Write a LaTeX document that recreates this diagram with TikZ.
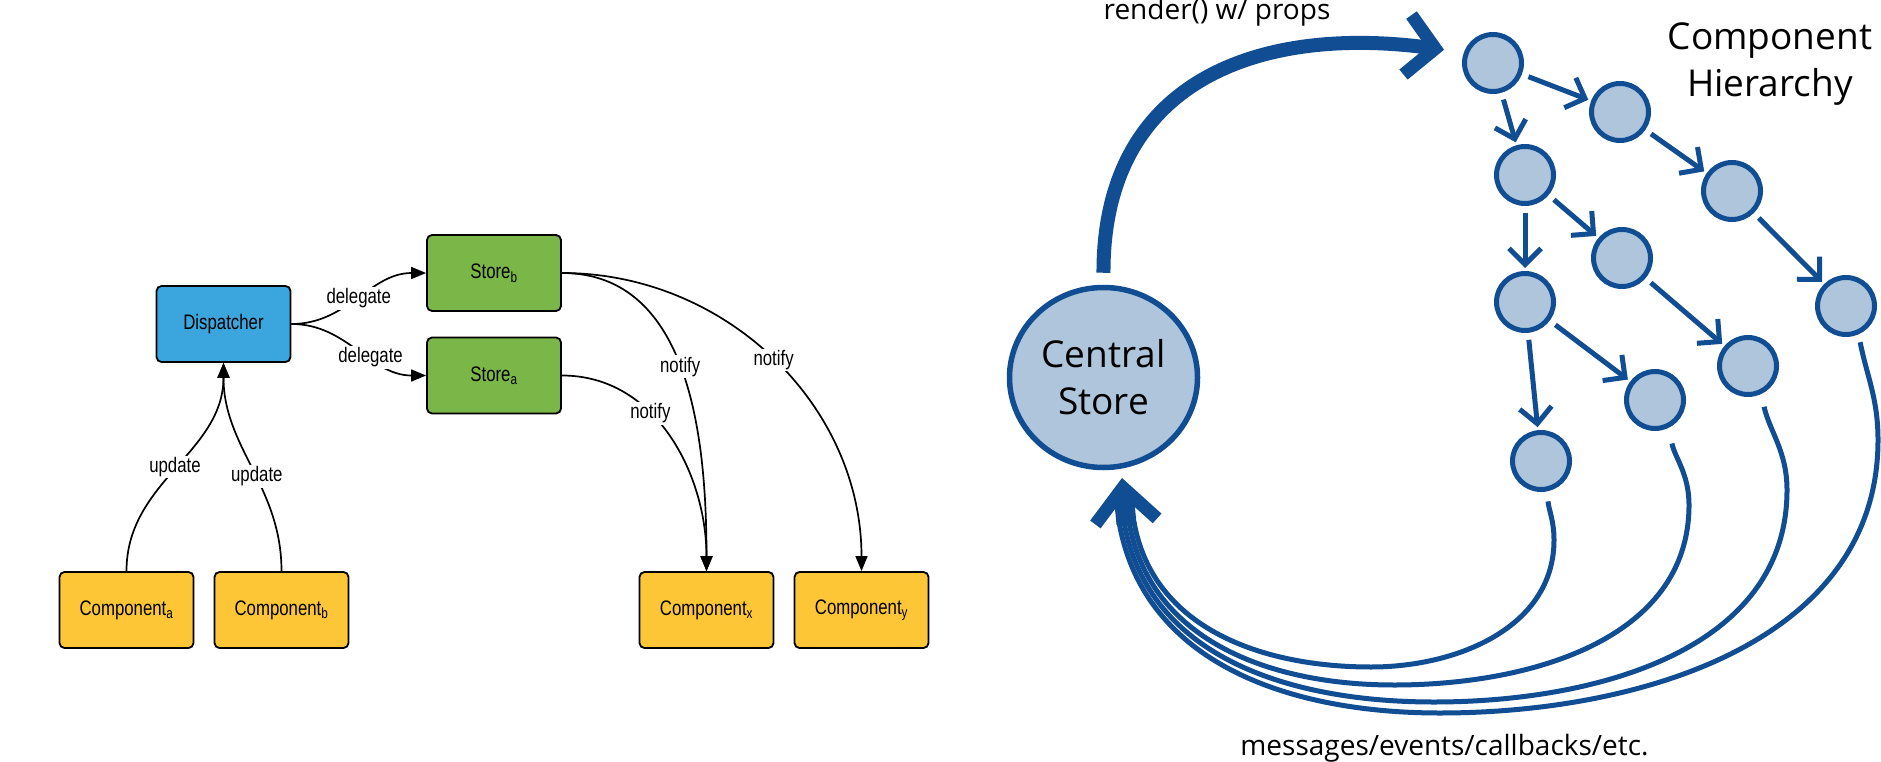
\documentclass[tikz,border=0pt]{standalone}
\usepackage{fontspec}
\usetikzlibrary{arrows.meta,shapes.geometric}
\newfontfamily\lfont[FakeStretch=0.8]{Liberation Sans}
\newfontfamily\rfont{Open Sans}
\definecolor{dispblue}{RGB}{58,166,221}
\definecolor{storegreen}{RGB}{122,182,72}
\definecolor{compyellow}{RGB}{252,198,54}
\definecolor{fluxblue}{RGB}{17,77,146}
\definecolor{fluxfill}{RGB}{174,197,219}
\begin{document}
\begin{tikzpicture}[x=1pt,y=1pt,
  lbox/.style={draw=black,line width=1.8pt,rounded corners=5pt,minimum width=134pt,minimum height=76pt,inner sep=0pt,font=\lfont\fontsize{21}{25}\selectfont},
  lconn/.style={draw=black,line width=1.7pt,-{Triangle[length=15pt,width=12pt]}},
  llbl/.style={fill=white,inner sep=1.5pt,font=\lfont\fontsize{21}{25}\selectfont},
  hnode/.style={circle,draw=fluxblue,fill=fluxfill,line width=5pt,minimum size=57pt,inner sep=0pt},
  harrow/.style={draw=fluxblue,line width=5pt,-{Straight Barb[length=16pt,width=32pt,line width=5pt]},shorten <=7pt,shorten >=3pt},
  hret/.style={draw=fluxblue,line width=5pt},
  bigline/.style={draw=fluxblue,line width=14pt},
  rtext/.style={font=\rfont\fontsize{28}{34}\selectfont},
  htitle/.style={font=\rfont\fontsize{37}{47}\selectfont,align=center},
]
\fill[white] (0,0) rectangle (1881,-762);
\useasboundingbox (0,0) rectangle (1881,-762);

% ---------- left: Flux ----------
\node[lbox,fill=dispblue] (disp) at (223.5,-324) {Dispatcher};
\node[lbox,fill=storegreen] (sb) at (494,-273) {Store\textsubscript{b}};
\node[lbox,fill=storegreen] (sa) at (494,-375.5) {Store\textsubscript{a}};
\node[lbox,fill=compyellow] (ca) at (126.5,-610) {Component\textsubscript{a}};
\node[lbox,fill=compyellow] (cb) at (281.5,-610) {Component\textsubscript{b}};
\node[lbox,fill=compyellow] (cx) at (706.5,-610) {Component\textsubscript{x}};
\node[lbox,fill=compyellow] (cy) at (861.5,-610) {Component\textsubscript{y}};

\draw[lconn] (disp.east) to[out=0,in=180] node[llbl] {delegate} (sb.west);
\draw[lconn] (disp.east) to[out=0,in=180] node[llbl,pos=0.6] {delegate} (sa.west);
\draw[lconn] (ca.north) to[out=90,in=-90] node[llbl] {update} (disp.south);
\draw[lconn] (cb.north) to[out=90,in=-90] node[llbl,pos=0.45] {update} (disp.south);
\draw[lconn] (sb.east) to[out=0,in=90] node[llbl,pos=0.48] {notify} (cx.north);
\draw[lconn] (sb.east) to[out=0,in=90] node[llbl] {notify} (cy.north);
\draw[lconn] (sa.east) to[out=0,in=90] node[llbl,pos=0.38] {notify} (cx.north);

% ---------- right: central store ----------
\node[ellipse,draw=fluxblue,fill=fluxfill,line width=5.5pt,minimum width=188pt,minimum height=180pt,inner sep=0pt,htitle] (cs) at (1103.5,-377.5) {Central\\Store};

\node[hnode] (n1) at (1493,-63) {};
\node[hnode] (n2) at (1620,-112) {};
\node[hnode] (n3) at (1525,-175) {};
\node[hnode] (n4) at (1732,-191) {};
\node[hnode] (n5) at (1622,-258) {};
\node[hnode] (n6) at (1525,-302) {};
\node[hnode] (n7) at (1846,-306) {};
\node[hnode] (n8) at (1748,-366) {};
\node[hnode] (n9) at (1655,-400) {};
\node[hnode] (n10) at (1541,-461) {};

\draw[harrow] (n1) -- (n2);
\draw[harrow] (n1) -- (n3);
\draw[harrow] (n2) -- (n4);
\draw[harrow] (n3) -- (n5);
\draw[harrow] (n3) -- (n6);
\draw[harrow] (n4) -- (n7);
\draw[harrow] (n5) -- (n8);
\draw[harrow] (n6) -- (n9);
\draw[harrow] (n6) -- (n10);

\node[htitle,anchor=base] (title) at (1770,-97) {Component\\Hierarchy};
\node[rtext,anchor=base] (rlabel) at (1217,-20) {render() w/ props};
\node[rtext,anchor=base] (mlabel) at (1444.5,-755) {messages/events/callbacks/etc.};

% render arrow
\draw[bigline,-{Straight Barb[length=28pt,width=60pt,line width=13pt]},shorten <=12pt,shorten >=20pt]
  (cs.north) .. controls (1103,-80) and (1260,-25) .. (n1.160);

% return curves
\coordinate (r10) at (1554,-540); \coordinate (b10) at (1371,-667); \coordinate (e10) at (1134,-522);
\coordinate (r9) at (1689,-505);  \coordinate (b9) at (1394,-685);  \coordinate (e9) at (1129,-522);
\coordinate (r8) at (1787,-490);  \coordinate (b8) at (1434,-702);  \coordinate (e8) at (1124,-522);
\coordinate (r7) at (1878,-440);  \coordinate (b7) at (1440,-713);  \coordinate (e7) at (1119,-522);
\draw[hret,shorten <=10pt] (n10.-79) to[out=-84,in=90] (r10) to[out=-90,in=0] (b10) to[out=180,in=-80] (e10);
\draw[hret,shorten <=16pt] (n9.-64) to[out=-78,in=90] (r9) to[out=-90,in=0] (b9) to[out=180,in=-80] (e9);
\draw[hret,shorten <=13pt] (n8.-65) to[out=-77,in=90] (r8) to[out=-90,in=0] (b8) to[out=180,in=-80] (e8);
\draw[hret,shorten <=8pt] (n7.-66) to[out=-79,in=90] (r7) to[out=-90,in=0] (b7) to[out=180,in=-80] (e7);
\coordinate (rbase) at (1126.5,-524);
\coordinate (rtip) at (1122,-478);
\draw[draw=fluxblue,line width=20pt,-{Straight Barb[length=34pt,width=62pt,line width=13pt]}] (rbase) -- (rtip);
\end{tikzpicture}
\end{document}
